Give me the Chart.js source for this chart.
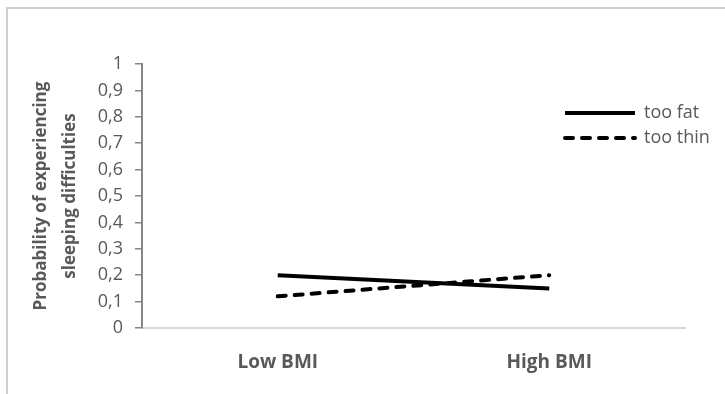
<!DOCTYPE html>
<html>
<head>
<meta charset="utf-8">
<script src="https://cdn.jsdelivr.net/npm/chart.js@4.4.1/dist/chart.umd.min.js"></script>
<style>
html, body { margin: 0; padding: 0; background: #fff; overflow: hidden; }
#frame { position: absolute; left: 6px; top: 7px; width: 800px; height: 450px;
  border-left: 2px solid #d0d0d0; border-top: 2px solid #d0d0d0; }
#wrap { position: absolute; left: 0; top: 0; width: 725px; height: 394px; }
</style>
</head>
<body>
<div id="frame"></div>
<div id="wrap"><canvas id="bmiChart"></canvas></div>
<script>
// chart data
const categories = ['Low BMI', 'High BMI'];
const tooFat = [0.20, 0.15];
const tooThin = [0.12, 0.20];
const yTickLabels = ['0', '0,1', '0,2', '0,3', '0,4', '0,5', '0,6', '0,7', '0,8', '0,9', '1'];

const grey = '#595959';
Chart.defaults.font.family = "'Open Sans', sans-serif";
Chart.defaults.color = grey;

// put the legend at the upper right, inside the plot
const legendSpot = {
  id: 'legendSpot',
  afterLayout(chart) {
    const lg = chart.legend;
    lg.left = 558;
    lg.top = 97;
    lg.right = 725;
    lg.bottom = 200;
  }
};

// legend lines take the dash of their dataset
function lineLabels(chart) {
  const items = Chart.defaults.plugins.legend.labels.generateLabels(chart);
  items.forEach(it => {
    const ds = chart.data.datasets[it.datasetIndex];
    it.lineDash = ds.borderDash || [];
    it.lineCap = ds.borderCapStyle || 'butt';
    it.lineWidth = ds.borderWidth;
    it.strokeStyle = ds.borderColor;
  });
  return items;
}

const ctx = document.getElementById('bmiChart').getContext('2d');
new Chart(ctx, {
  type: 'line',
  data: {
    labels: categories,
    datasets: [
      {label: 'too fat', data: tooFat, borderColor: '#000', backgroundColor: '#000',
       borderWidth: 4, pointRadius: 0, tension: 0},
      {label: 'too thin', data: tooThin, borderColor: '#000', backgroundColor: '#000',
       borderWidth: 4, borderDash: [8, 9], borderCapStyle: 'round', pointRadius: 0, tension: 0}
    ]
  },
  options: {
    responsive: true,
    maintainAspectRatio: false,
    animation: false,
    layout: {padding: {top: 64, right: 40, left: 0, bottom: 0}},
    plugins: {
      tooltip: {enabled: false},
      legend: {
        position: 'chartArea',
        align: 'start',
        labels: {
          usePointStyle: true,
          pointStyle: 'line',
          pointStyleWidth: 70,
          padding: 7,
          color: grey,
          font: {size: 18},
          generateLabels: lineLabels
        }
      }
    },
    scales: {
      x: {
        offset: true,
        grid: {display: false, drawTicks: false},
        border: {color: '#d9d9d9', width: 2},
        ticks: {padding: 23, color: grey, font: {size: 19, weight: 'bold'}},
        afterFit(s) { s.height = 66; }
      },
      y: {
        min: 0,
        max: 1,
        ticks: {stepSize: 0.1, padding: 12, color: grey, font: {size: 18},
          callback: (v, i) => yTickLabels[i]},
        grid: {drawOnChartArea: false, tickLength: 7, color: '#868686', lineWidth: 1.5},
        border: {color: '#868686', width: 2},
        title: {
          display: true,
          text: ['Probability of experiencing', 'sleeping difficulties'],
          color: grey,
          padding: {top: 26},
          font: {size: 17, weight: 'bold', lineHeight: 1.75}
        },
        afterFit(s) { s.width = 142; }
      }
    }
  },
  plugins: [legendSpot]
});
</script>
</body>
</html>
